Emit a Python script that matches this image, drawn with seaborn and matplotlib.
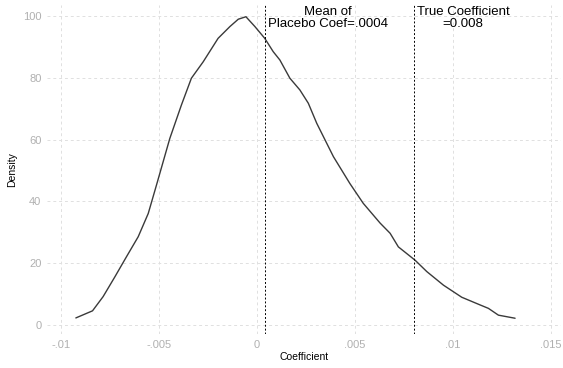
import matplotlib
matplotlib.use("Agg")
import matplotlib.pyplot as plt
import seaborn as sns
import pandas as pd

coef = [-0.00923, -0.00838, -0.00784, -0.00725, -0.00665, -0.00605, -0.00554, -0.00512,
        -0.00444, -0.00385, -0.00334, -0.00274, -0.00198, -0.00138, -0.00095, -0.00056,
        -0.0001, 0.0004, 0.00083, 0.00117, 0.00168, 0.00219, 0.00262, 0.00305, 0.00390,
        0.00474, 0.00542, 0.00628, 0.00679, 0.00721, 0.00806, 0.00866, 0.00951, 0.01044,
        0.01138, 0.0118, 0.01231, 0.01316]
density = [2.3, 4.6, 9.2, 15.5, 22.1, 28.6, 36.1, 45.3,
           60.4, 71.2, 79.9, 85.2, 92.8, 96.6, 99.0, 99.8,
           96.6, 92.8, 88.5, 85.8, 79.9, 76.1, 71.8, 65.3, 54.5,
           45.8, 39.4, 33.0, 29.7, 25.3, 21.0, 17.3, 12.9, 9.0,
           6.5, 5.4, 3.2, 2.2]
mean_placebo = 0.0004
true_coef = 0.008
xticks = [-0.01, -0.005, 0, 0.005, 0.01, 0.015]
xticklabels = ["-.01", "-.005", "0", ".005", ".01", ".015"]
yticks = [0, 20, 40, 60, 80, 100]

sns.set_style("white")
plt.rcParams['font.family'] = ['Liberation Sans', 'DejaVu Sans']

fig = plt.figure(figsize=(5.63, 3.68), dpi=100)
ax = fig.add_axes([47/563, 1-334/368, (561-47)/563, (334-5)/368])

df = pd.DataFrame({"Coefficient": coef, "Density": density})
sns.lineplot(data=df, x="Coefficient", y="Density", ax=ax, color="#3a3a3a",
             linewidth=1.0, sort=False, estimator=None)

ax.axvline(mean_placebo, color="black", linestyle=(0, (2, 2)), linewidth=0.7)
ax.axvline(true_coef, color="black", linestyle=(0, (2, 2)), linewidth=0.7)

ax.set_xlim(-0.0107, 0.0155)
ax.set_ylim(-2.9, 103.6)
ax.set_xticks(xticks)
ax.set_xticklabels(xticklabels)
ax.set_yticks(yticks)
ax.grid(True, color="#e0e0e0", linestyle=(0, (3, 3)), linewidth=0.7)
for s in ax.spines.values():
    s.set_visible(False)
ax.tick_params(axis="both", colors="#b3b3b3", labelcolor="#b0b0b0", labelsize=8,
               length=0, pad=4)
ax.set_xlabel("Coefficient", fontsize=7.5, color="black", labelpad=2)
ax.set_ylabel("Density", fontsize=7.5, color="black", labelpad=4)

ax.text(0.00362, 103.2, "Mean of\nPlacebo Coef=.0004", ha="center", va="top",
        fontsize=9.5, linespacing=0.95, color="black")
ax.text(0.0105, 103.2, "True Coefficient\n=0.008", ha="center", va="top",
        fontsize=9.5, linespacing=0.95, color="black")

fig.savefig("out.png", dpi=100)
